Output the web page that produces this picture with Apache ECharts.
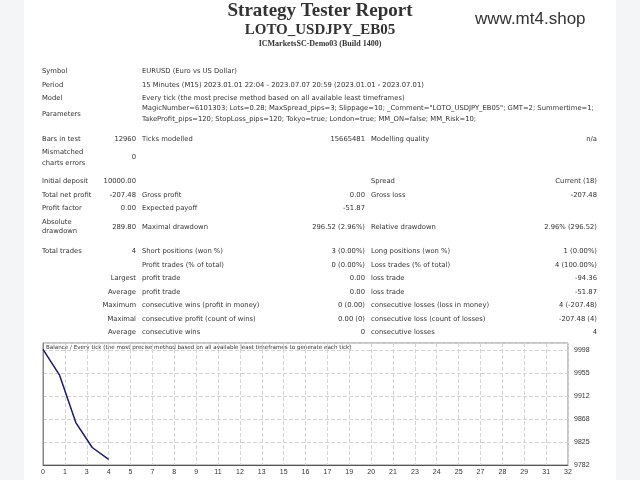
<!DOCTYPE html>
<html><head><meta charset="utf-8">
<script src="https://cdn.jsdelivr.net/npm/echarts@6/dist/echarts.min.js"></script>
<style>html,body{margin:0;padding:0;background:#f4f5f6}#c{width:640px;height:480px}</style>
</head><body><div id="c"></div>
<script>
// Balance curve data
const tradeIndex = [0, 1, 2, 3, 4];
const balance = [10000, 9952, 9862, 9815, 9792.52];
const yTickLabels = [9782, 9825, 9868, 9912, 9955, 9998];

// Report rows: [y, label1, value1, label2, value2, label3, value3]
const rows = [
 [71,'Symbol','','EURUSD (Euro vs US Dollar)','','',''],
 [85,'Period','','15 Minutes (M15) 2023.01.01 22:04 - 2023.07.07 20:59 (2023.01.01 - 2023.07.01)','','',''],
 [98,'Model','','Every tick (the most precise method based on all available least timeframes)','','',''],
 [108,'','','MagicNumber=6101303; Lots=0.28; MaxSpread_pips=3; Slippage=10; _Comment="LOTO_USDJPY_EB05"; GMT=2; Summertime=1;','','',''],
 [114,'Parameters','','','','',''],
 [119,'','','TakeProfit_pips=120; StopLoss_pips=120; Tokyo=true; London=true; MM_ON=false; MM_Risk=10;','','',''],
 [139,'Bars in test','12960','Ticks modelled','15665481','Modelling quality','n/a'],
 [152,'Mismatched','','','','',''],
 [157,'','0','','','',''],
 [163,'charts errors','','','','',''],
 [181,'Initial deposit','10000.00','','','Spread','Current (18)'],
 [195,'Total net profit','-207.48','Gross profit','0.00','Gross loss','-207.48'],
 [208,'Profit factor','0.00','Expected payoff','-51.87','',''],
 [222,'Absolute','','','','',''],
 [227,'','289.80','Maximal drawdown','296.52 (2.96%)','Relative drawdown','2.96% (296.52)'],
 [231,'drawdown','','','','',''],
 [251,'Total trades','4','Short positions (won %)','3 (0.00%)','Long positions (won %)','1 (0.00%)'],
 [265,'','','Profit trades (% of total)','0 (0.00%)','Loss trades (% of total)','4 (100.00%)'],
 [278,'','Largest','profit trade','0.00','loss trade','-94.36'],
 [292,'','Average','profit trade','0.00','loss trade','-51.87'],
 [305,'','Maximum','consecutive wins (profit in money)','0 (0.00)','consecutive losses (loss in money)','4 (-207.48)'],
 [319,'','Maximal','consecutive profit (count of wins)','0.00 (0)','consecutive loss (count of losses)','-207.48 (4)'],
 [332,'','Average','consecutive wins','0','consecutive losses','4']
];
const F = '6.8px "DejaVu Sans", sans-serif';
const g = [{type:'rect',shape:{x:24,y:0,width:592,height:480},style:{fill:'#fff'},z:-10}];
function t(x,y,s,align,font){ if(!s) return; g.push({type:'text',x:x,y:y,style:{text:s,font:font||F,fill:'#333',align:align||'left',verticalAlign:'middle'}}); }
rows.forEach(r=>{ const [y,a,b,c,d,e,f]=r; t(42,y,a); t(136,y,b,'right'); t(142,y,c); t(365,y,d,'right'); t(371,y,e); t(597,y,f,'right'); });
t(320,11,'Strategy Tester Report','center','bold 19px "Liberation Serif", serif');
t(320,30,'LOTO_USDJPY_EB05','center','bold 15px "Liberation Serif", serif');
t(320,44,'ICMarketsSC-Demo03 (Build 1400)','center','bold 8px "Liberation Serif", serif');
t(475,19,'www.mt4.shop','left','17px "Liberation Sans", Arial, sans-serif');
t(46,348,'Balance / Every tick (the most precise method based on all available least timeframes to generate each tick)','left','5.6px "DejaVu Sans", sans-serif');

const chart = echarts.init(document.getElementById('c'));
chart.setOption({
 animation:false,
 grid:{left:43,right:72,top:343,bottom:15},
 xAxis:{type:'value',min:0,max:32,interval:32/24,
  axisLine:{lineStyle:{color:'#555'}},axisTick:{show:false},
  axisLabel:{fontSize:7,color:'#333',margin:4,formatter:v=>String(Math.round(v))},
  splitLine:{show:true,lineStyle:{type:'dashed',color:'#d4d4d4'}}},
 yAxis:{type:'value',position:'right',min:yTickLabels[0],max:10012,interval:(yTickLabels[5]-yTickLabels[0])/5,
  axisLine:{show:true,lineStyle:{color:'#888'}},axisTick:{show:false},
  axisLabel:{fontSize:7,color:'#333',margin:6,showMaxLabel:false,formatter:v=>String(Math.round(v))},
  splitLine:{show:true,lineStyle:{type:'dashed',color:'#d4d4d4'}}},
 series:[{type:'line',data:tradeIndex.map((x,i)=>[x,balance[i]]),symbol:'none',
  lineStyle:{color:'#1a1a6e',width:1.5}}],
 graphic:g.concat([{type:'rect',shape:{x:43,y:343,width:525,height:122},style:{fill:'none',stroke:'#888',lineWidth:1}}])
});
</script></body></html>
